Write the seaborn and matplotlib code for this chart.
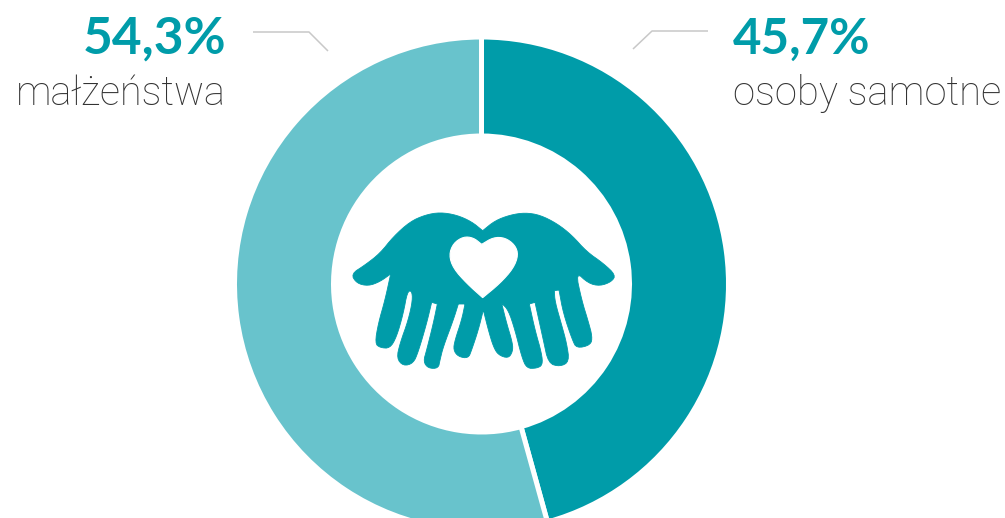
import matplotlib
matplotlib.use("Agg")
import matplotlib.pyplot as plt
import numpy as np
import seaborn as sns
from matplotlib.patches import Polygon

categories = ["osoby samotne", "małżeństwa"]
shares = [45.7, 54.3]
share_labels = ["45,7%", "54,3%"]

sns.set_theme(style="white")
plt.rcParams["font.family"] = ["Lato", "DejaVu Sans"]
colors = sns.color_palette(["#009ca9", "#68c3cc"])
TEAL = "#009ca9"
LABEL_FONT = ["Roboto", "Lato", "DejaVu Sans"]

# obrys dloni i serca, wspolrzedne z powiekszenia x3 (340,200)
hands = [(428,92),(465,62),(510,45),(555,38),(600,45),(650,70),(695,105),(740,155),(790,190),(827,225),
         (815,245),(780,258),(745,250),(707,215),(725,300),(745,365),(757,410),(752,435),(710,445),(697,420),
         (670,340),(657,270),(657,270),(643,272),(643,272),(645,305),(665,375),(680,430),(688,485),(660,500),(625,490),
         (610,420),(585,307),(585,307),(568,312),(568,312),(585,390),(605,460),(608,495),(590,505),(560,505),
         (545,470),(525,390),(505,330),(485,310),(485,310),(500,370),(518,430),(518,455),(505,475),(475,465),(460,440),
         (445,390),(430,330),(430,330),(415,390),(395,450),(385,475),(355,470),(340,450),(345,420),(365,360),
         (375,312),(375,312),(355,312),(355,312),(340,360),(310,440),(300,480),(295,505),(265,505),(250,485),(260,450),
         (280,370),(292,312),(292,312),(275,307),(275,307),(260,370),(235,455),(220,490),(190,498),(170,475),(180,430),
         (205,360),(218,300),(215,272),(202,275),(190,340),(170,410),(150,445),(120,443),(105,430),(115,370),
         (135,300),(152,222),(152,222),(120,245),(85,258),(50,250),(33,222),(75,195),(120,160),(160,110),(210,65),
         (255,45),(300,37),(350,45),(395,65),(428,92),(428,92)]
heart = [(425,133),(425,133),(400,113),(370,110),(340,130),(327,165),(340,205),(380,250),(428,293),(428,293),
         (480,250),(520,205),(535,165),(525,135),(495,113),(460,112)]


def smooth(points, rounds=2):
    """Wygladza obrys metoda Chaikina i przelicza na piksele."""
    pts = np.array(points, dtype=float)
    for _ in range(rounds):
        nxt = np.roll(pts, -1, axis=0)
        pts = np.column_stack([0.75 * pts + 0.25 * nxt, 0.25 * pts + 0.75 * nxt]).reshape(-1, 2)
    return pts / 3 + np.array([340, 200])


fig = plt.figure(figsize=(10.05, 5.18), dpi=100)
ax = fig.add_axes([0, 0, 1, 1])

ax.pie(shares, colors=colors, center=(481.5, 284), radius=247, startangle=270, counterclock=True,
       wedgeprops=dict(width=99, edgecolor="white", linewidth=3.6))
ax.set_xlim(0, 1005)
ax.set_ylim(518, 0)
ax.set_aspect("equal")
ax.axis("off")

# ikona w srodku
ax.add_patch(Polygon(smooth(hands), closed=True, facecolor=TEAL, edgecolor=TEAL, linewidth=0.6))
ax.add_patch(Polygon(smooth(heart), closed=True, facecolor="white", edgecolor="white", linewidth=0.8))

# linie odniesienia
ax.plot([253, 309, 328], [32, 32, 51], color="#c8c8c8", lw=1.1, solid_capstyle="butt")
ax.plot([708, 652, 633], [31, 31, 49], color="#c8c8c8", lw=1.1, solid_capstyle="butt")

# opisy
ax.text(733, 54, share_labels[0], ha="left", va="baseline", fontsize=35.5, fontweight="bold", color=TEAL)
ax.text(733, 105, categories[0], ha="left", va="baseline", fontsize=28.8, fontweight="light",
        family=LABEL_FONT, color="#333333")
ax.text(226, 54, share_labels[1], ha="right", va="baseline", fontsize=37, fontweight="bold", color=TEAL)
ax.text(226, 105, categories[1], ha="right", va="baseline", fontsize=28.5, fontweight="light",
        family=LABEL_FONT, color="#333333")

fig.savefig("out.png", dpi=100)
